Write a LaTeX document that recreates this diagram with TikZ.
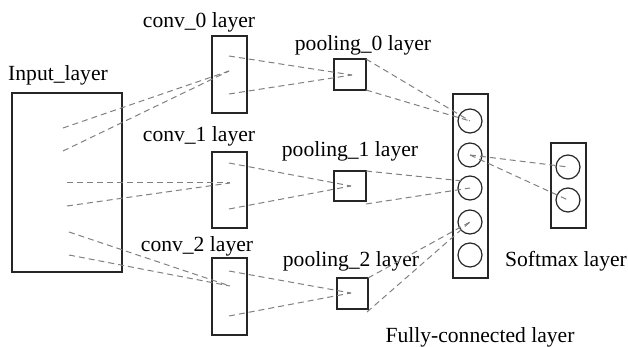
\documentclass[tikz,border=0pt]{standalone}
\usepackage{fontspec}
\setmainfont{Liberation Serif}
\begin{document}
\begin{tikzpicture}[x=1pt,y=-1pt,
  lay/.style={draw=black!85, line width=1.2pt, inner sep=0pt, outer sep=0pt, anchor=north west},
  neur/.style={draw=black!85, line width=1.2pt, circle, minimum size=24pt, inner sep=0pt},
  lbl/.style={anchor=base, inner sep=0pt, font=\fontsize{21.6}{26}\selectfont},
  conn/.style={draw=black!50, line width=1pt, dash pattern=on 6pt off 4pt}]
\useasboundingbox (0,0) rectangle (628,347);
% boxes
\node[lay, minimum width=110pt, minimum height=179pt] (in) at (12,93) {};
\node[lay, minimum width=35pt, minimum height=77pt] (cv0) at (212,36) {};
\node[lay, minimum width=35pt, minimum height=76pt] (cv1) at (212,152) {};
\node[lay, minimum width=35pt, minimum height=77pt] (cv2) at (212,258) {};
\node[lay, minimum width=32pt, minimum height=31pt] (pl0) at (334,59) {};
\node[lay, minimum width=32pt, minimum height=30pt] (pl1) at (334,171) {};
\node[lay, minimum width=31pt, minimum height=31pt] (pl2) at (337,278) {};
\node[lay, minimum width=35pt, minimum height=184pt] (fc) at (453,94) {};
\node[lay, minimum width=35pt, minimum height=85pt] (sm) at (551,143) {};
% neurons
\node[neur] (f1) at (470,121) {};
\node[neur] (f2) at (470,155) {};
\node[neur] (f3) at (470,188) {};
\node[neur] (f4) at (470,222) {};
\node[neur] (f5) at (470,255) {};
\node[neur] (s1) at (568,167) {};
\node[neur] (s2) at (568,200) {};
% labels
\node[lbl] (tin) at (58,81) {Input\_layer};
\node[lbl] (tc0) at (199,28) {conv\_0 layer};
\node[lbl] (tc1) at (199,142) {conv\_1 layer};
\node[lbl] (tc2) at (197,251) {conv\_2 layer};
\node[lbl] (tp0) at (363,51) {pooling\_0 layer};
\node[lbl] (tp1) at (350,157) {pooling\_1 layer};
\node[lbl] (tp2) at (351,266) {pooling\_2 layer};
\node[lbl] (tsm) at (566,266) {Softmax layer};
\node[lbl] (tfc) at (480,342) {Fully-connected layer};
% connection points
\coordinate (i1) at (63,128);
\coordinate (i2) at (63,151);
\coordinate (i3) at (67,183);
\coordinate (i4) at (67,206);
\coordinate (i5) at (69,232);
\coordinate (i6) at (69,255);
\coordinate (c0m) at (229,71);
\coordinate (c1m) at (230,183);
\coordinate (c2m) at (230,286);
\coordinate (c0a) at (229,56);
\coordinate (c0b) at (229,94);
\coordinate (c1a) at (229,163);
\coordinate (c1b) at (229,209);
\coordinate (c2a) at (229,271);
\coordinate (c2b) at (229,316);
\coordinate (p0m) at (352,75);
\coordinate (p1m) at (351,186);
\coordinate (p2m) at (351,293);
\coordinate (p1b) at (366,204);
\coordinate (p2b) at (367,312);
\coordinate (f3w) at (463,181);
% connectors
\draw[conn] (i1) -- (c0m);
\draw[conn] (i2) -- (c0m);
\draw[conn] (i3) -- (c1m);
\draw[conn] (i4) -- (c1m);
\draw[conn] (i5) -- (c2m);
\draw[conn] (i6) -- (c2m);
\draw[conn] (c0a) -- (p0m);
\draw[conn] (c0b) -- (p0m);
\draw[conn] (c1a) -- (p1m);
\draw[conn] (c1b) -- (p1m);
\draw[conn] (c2a) -- (p2m);
\draw[conn] (c2b) -- (p2m);
\draw[conn] (pl0.north east) -- (f1.center);
\draw[conn] (pl0.south east) -- (f1.center);
\draw[conn] (pl1.north east) -- (f3w);
\draw[conn] (p1b) -- (f3.center);
\draw[conn] (pl2.north east) -- (f4.center);
\draw[conn] (p2b) -- (f4.center);
\draw[conn] (f2.center) -- (s1.center);
\draw[conn] (f2.center) -- (s2.center);
\end{tikzpicture}
\end{document}
